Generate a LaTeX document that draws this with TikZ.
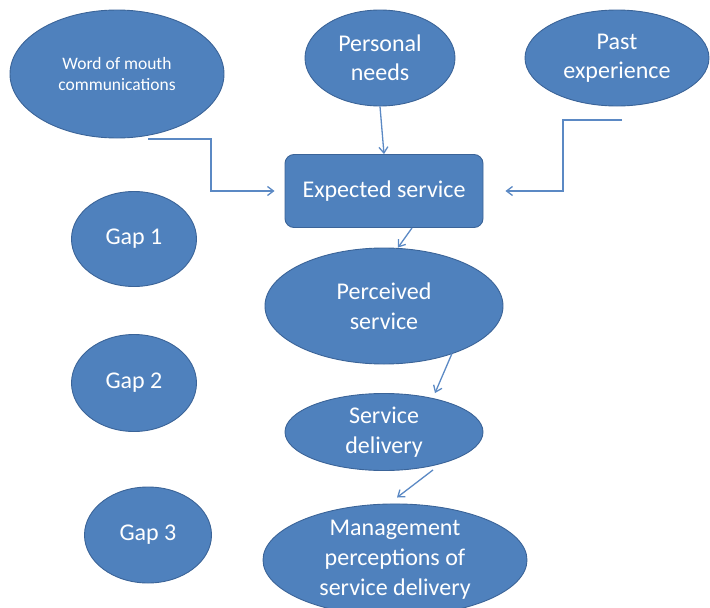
\documentclass[tikz,border=0pt]{standalone}
\usepackage{fontspec}
\setmainfont{Carlito}
\usetikzlibrary{shapes.geometric,arrows.meta,calc}
\definecolor{fillblue}{HTML}{4F81BD}
\definecolor{edgeblue}{HTML}{3B6498}
\definecolor{linkblue}{HTML}{5B89C4}
\newcommand{\fs}[2]{\fontsize{#1}{#2}\selectfont}
\tikzset{
  bubble/.style={ellipse, fill=fillblue, draw=edgeblue, line width=0.9pt,
    text=white, align=center, inner sep=0pt},
  boxnode/.style={rectangle, rounded corners=9pt, fill=fillblue, draw=edgeblue,
    line width=0.9pt, text=white, align=center, inner sep=0pt},
  link/.style={draw=linkblue, line width=1.3pt,
    -{Straight Barb[length=6pt,width=9pt,line width=1.3pt]}}
}
\begin{document}
\begin{tikzpicture}[x=1pt,y=-1pt]
\useasboundingbox (0,0) rectangle (710,608);

% top row: the three sources of expectation
\node[bubble, minimum width=214pt, minimum height=128pt, font=\fs{17.5}{21}]
  (wom) at (117,74) {Word of mouth\\communications};
\node[bubble, minimum width=150pt, minimum height=96pt, font=\fs{24}{29}]
  (pn) at (380,58) {Personal\\needs};
\node[bubble, minimum width=184pt, minimum height=96pt, font=\fs{24}{29}]
  (past) at (617,58) {Past\\experience};

% central chain
\node[boxnode, minimum width=198pt, minimum height=73pt, font=\fs{24}{29}]
  (exp) at (384,191) {Expected service};
\node[bubble, minimum width=238pt, minimum height=116pt, font=\fs{24}{30}]
  (perc) at (384,306) {Perceived\\service};
\node[bubble, minimum width=198pt, minimum height=77pt, font=\fs{24}{30}]
  (del) at (384,432) {Service\\delivery};
\node[bubble, minimum width=264pt, minimum height=95pt, font=\fs{24}{30}]
  (mgmt) at (395,560) {Management\\perceptions of\\service delivery};

% gaps
\node[bubble, minimum width=125pt, minimum height=95pt, font=\fs{24}{28}]
  (g1) at (134,239) {Gap 1};
\node[bubble, minimum width=125pt, minimum height=97pt, font=\fs{24}{28}]
  (g2) at (134,383) {Gap 2};
\node[bubble, minimum width=127pt, minimum height=96pt, font=\fs{24}{28}]
  (g3) at (148,535) {Gap 3};

% connectors
\coordinate (womout) at (148,139);
\coordinate (pastout) at (622,120);
\draw[link, shorten >=10pt] (womout) -- ++(63,0) |- (exp.west);
\draw[link] (pn.south) -- (exp.north);
\draw[link, shorten >=22pt] (pastout) -- ++(-59,0) |- (exp.east);
\draw[link] ($(exp.south)+(28,0)$) -- ($(perc.north)+(14,0)$);
\draw[link] ($(perc.south)+(68,-11)$) -- ($(del.north)+(51,0)$);
\draw[link] ($(del.south)+(49,-1)$) -- ($(mgmt.north)+(2,-6)$);
\end{tikzpicture}
\end{document}
